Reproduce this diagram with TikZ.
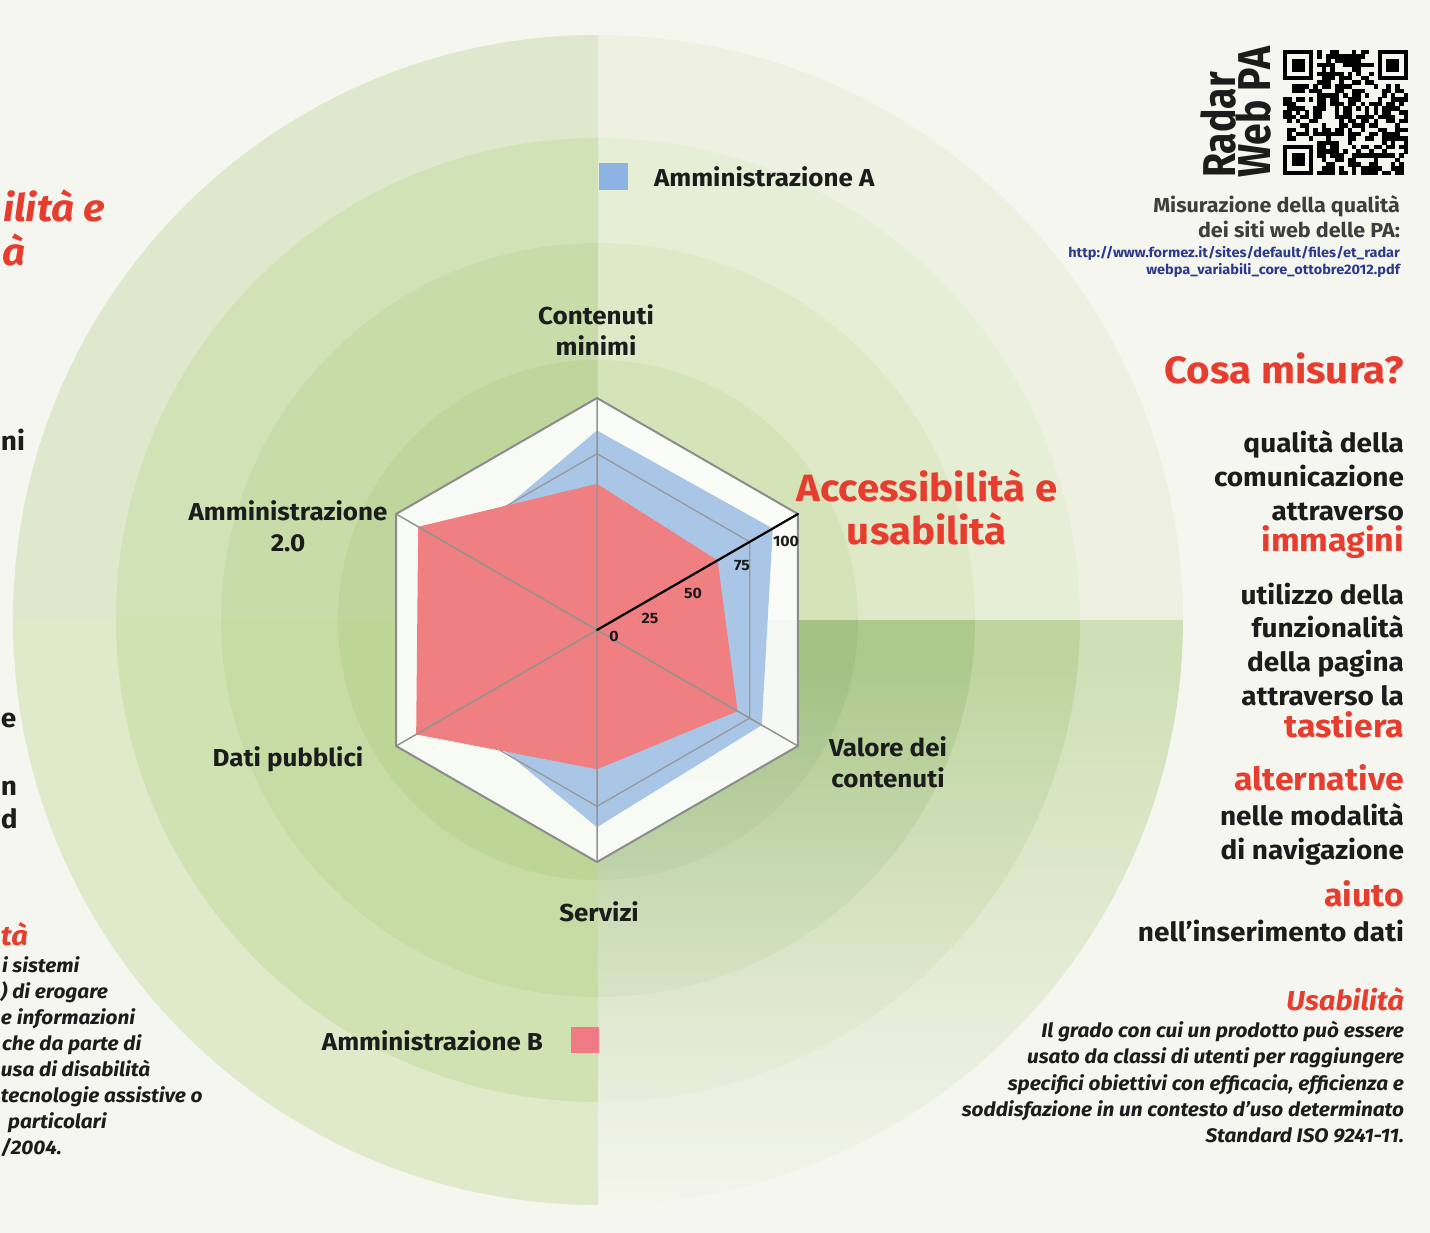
\documentclass[tikz,border=0pt]{standalone}
\usepackage{fontspec}
\setmainfont{Fira Sans}[FakeStretch=1.06]
\newfontfamily\radarfont{Fira Sans}[FakeStretch=0.85]
\usetikzlibrary{fadings}
\definecolor{bgc}{HTML}{F6F6F0}
\definecolor{txt}{HTML}{1C1C1C}
\definecolor{redt}{HTML}{E63D2F}
\definecolor{urlc}{HTML}{2B3A8C}
\definecolor{serA}{HTML}{AAC6E6}
\definecolor{serB}{HTML}{F07F82}
\definecolor{legA}{HTML}{8DB3E2}
\definecolor{legB}{HTML}{F07B86}
\definecolor{tla}{HTML}{DFE7CC}\definecolor{tlb}{HTML}{D2E2B7}\definecolor{tlc}{HTML}{C8DCA9}\definecolor{tld}{HTML}{BED69C}
\definecolor{tra}{HTML}{EEF1E1}\definecolor{trb}{HTML}{E7EED6}\definecolor{trc}{HTML}{DFE9C8}\definecolor{trd}{HTML}{D5E4B8}
\definecolor{bra}{HTML}{CFE0B6}\definecolor{brb}{HTML}{BED59F}\definecolor{brc}{HTML}{ADC98C}\definecolor{brd}{HTML}{A2C183}
\definecolor{bla}{HTML}{E0EACB}\definecolor{blb}{HTML}{D0E2B2}\definecolor{blc}{HTML}{C6DCA4}\definecolor{bld}{HTML}{BBD696}
\tikzset{
  lab/.style={font=\bfseries\fontsize{24.5}{31}\selectfont, text=txt, align=center},
  redbig/.style={font=\bfseries\fontsize{38}{43}\selectfont, text=redt, align=center},
  rcol/.style={font=\bfseries\fontsize{26.4}{30}\selectfont, text=txt, anchor=base east},
  rred/.style={font=\bfseries\fontsize{32}{34}\selectfont, text=redt, anchor=base east},
  itl/.style={font=\bfseries\itshape\fontsize{19.6}{26}\selectfont, text=txt},
  tick/.style={font=\bfseries\fontsize{15}{16}\selectfont, text=txt},
  axisl/.style={draw=gray!85, line width=1.5pt},
  hexl/.style={draw=gray!90, line width=2pt, line join=round},
  gridl/.style={draw=gray!80, line width=1.3pt},
}
\begin{document}
\begin{tikzpicture}[x=1pt,y=-1pt, every node/.style={inner sep=0pt, outer sep=0pt}]
\path[use as bounding box] (0,0) rectangle (1430,1233);
\begin{scope}
\clip (0,0) rectangle (1430,1233);
\fill[bgc] (0,0) rectangle (1430,1233);
% rings, quadrant by quadrant
\begin{scope}\clip (0,0) rectangle (598,620);
 \fill[tla] (598,620) circle[radius=585pt];
 \fill[tlb] (598,620) circle[radius=482pt];
 \fill[tlc] (598,620) circle[radius=377pt];
 \fill[tld] (598,620) circle[radius=260pt];
\end{scope}
\begin{scope}\clip (598,0) rectangle (1430,620);
 \fill[tra] (598,620) circle[radius=585pt];
 \fill[trb] (598,620) circle[radius=482pt];
 \fill[trc] (598,620) circle[radius=377pt];
 \fill[trd] (598,620) circle[radius=260pt];
\end{scope}
\begin{scope}\clip (0,620) rectangle (598,1233);
 \fill[bla] (598,620) circle[radius=585pt];
 \fill[blb] (598,620) circle[radius=482pt];
 \fill[blc] (598,620) circle[radius=377pt];
 \fill[bld] (598,620) circle[radius=260pt];
\end{scope}
\begin{scope}\clip (598,620) rectangle (1430,1233);
 \fill[bra] (598,620) circle[radius=585pt];
 \fill[brb] (598,620) circle[radius=482pt];
 \fill[brc] (598,620) circle[radius=377pt];
 \fill[brd] (598,620) circle[radius=260pt];
 \fill[bgc, path fading=north, fill opacity=0.95] (598,660) rectangle (1200,1210);
\end{scope}

% radar chart
\def\R{232}
\begin{scope}[shift={(597,630)}, yscale=-1]
 \fill[white, fill opacity=0.9] (90:\R) -- (30:\R) -- (-30:\R) -- (-90:\R) -- (-150:\R) -- (150:\R) -- cycle;
 \fill[serA] (90:{0.86*\R}) -- (30:{0.875*\R}) -- (-30:{0.82*\R}) -- (-90:{0.85*\R}) -- (-150:{0.70*\R}) -- (150:{0.70*\R}) -- cycle;
 \draw[gridl] (90:{0.76*\R}) -- (30:{0.76*\R}) -- (-30:{0.76*\R}) -- (-90:{0.76*\R}) -- (-150:{0.76*\R}) -- (150:{0.76*\R}) -- cycle;
 \fill[serB] (90:{0.63*\R}) -- (30:{0.60*\R}) -- (-30:{0.70*\R}) -- (-90:{0.60*\R}) -- (-150:{0.90*\R}) -- (150:{0.89*\R}) -- cycle;
 \draw[axisl] (90:\R) -- (-90:\R) (30:\R) -- (-150:\R) (150:\R) -- (-30:\R);
 \draw[hexl] (90:\R) -- (30:\R) -- (-30:\R) -- (-90:\R) -- (-150:\R) -- (150:\R) -- cycle;
 \draw[black, line width=2.2pt, line cap=round] (0,0) -- (30:\R);
\end{scope}
\node[tick] (t0) at (614,636) {0};
\node[tick] (t25) at (650,618) {25};
\node[tick] (t50) at (693,593) {50};
\node[tick] (t75) at (742,566) {75};
\node[tick] (t100) at (786,541) {100};

% axis labels
\node[lab] (cm) at (596,330) {Contenuti\\minimi};
\node[lab] (a20) at (288,526) {Amministrazione\\2.0};
\node[lab] (dp) at (288,759) {Dati pubblici};
\node[lab] (sv) at (599,912) {Servizi};
\node[lab] (vc) at (888,762) {Valore dei\\contenuti};
\node[redbig] (acc) at (927,507) {Accessibilità e\\usabilità};

% legend
\fill[legA] (599,163) rectangle (628,190);
\node[lab, anchor=west] (legatxt) at (654,177) {Amministrazione A};
\fill[legB] (571,1027) rectangle (599,1053);
\node[lab, anchor=east] (legbtxt) at (543,1041) {Amministrazione B};

% QR code (29 x 29 modules)
\def\qm{4.31}
\pgfmathsetseed{777}
\foreach \i in {0,...,28}{
  \foreach \j in {0,...,28}{
    \pgfmathtruncatemacro\qrskip{((\i<8)&&(\j<8))||((\i>20)&&(\j<8))||((\i<8)&&(\j>20))}
    \pgfmathtruncatemacro\qron{rnd<0.52}
    \ifnum\qrskip=0\relax\ifnum\qron=1\relax
      \fill[black] ({1283+\qm*\i},{50+\qm*\j}) rectangle ++(4.5,4.5);
    \fi\fi
  }
}
\foreach \cx/\cy in {0/0, 22/0, 0/22}{
  \fill[black] ({1283+\qm*\cx},{50+\qm*\cy}) rectangle ++({7*\qm},{7*\qm});
  \fill[bgc] ({1283+\qm*(\cx+1)},{50+\qm*(\cy+1)}) rectangle ++({5*\qm},{5*\qm});
  \fill[black] ({1283+\qm*(\cx+2)},{50+\qm*(\cy+2)}) rectangle ++({3*\qm},{3*\qm});
}
\node[font=\radarfont\bfseries\fontsize{46}{48}\selectfont, text=txt, rotate=90, anchor=base west] (radar) at (1235,178) {Radar};
\node[font=\radarfont\bfseries\fontsize{46}{48}\selectfont, text=txt, rotate=90, anchor=base west] (webpa) at (1270,178) {Web PA};
\node[font=\bfseries\fontsize{20.3}{25}\selectfont, text=txt!85, anchor=base east] (mis1) at (1400,213) {Misurazione della qualità};
\node[font=\bfseries\fontsize{20.3}{25}\selectfont, text=txt!85, anchor=base east] (mis2) at (1400,238) {dei siti web delle PA:};
\node[font=\bfseries\fontsize{13.7}{16}\selectfont, text=urlc, anchor=base east] (url1) at (1400,258) {http://www.formez.it/sites/default/files/et\_radar};
\node[font=\bfseries\fontsize{13.7}{16}\selectfont, text=urlc, anchor=base east] (url2) at (1400,275) {webpa\_variabili\_core\_ottobre2012.pdf};

% right column
\node[font=\bfseries\fontsize{38}{43}\selectfont, text=redt, anchor=base east] (cosa) at (1404,384) {Cosa misura?};
\node[rcol] (r1) at (1404,452) {qualità della};
\node[rcol] (r2) at (1404,486) {comunicazione};
\node[rcol] (r3) at (1404,520) {attraverso};
\node[rred] (r4) at (1404,551) {immagini};
\node[rcol] (r5) at (1404,604) {utilizzo della};
\node[rcol] (r6) at (1404,637) {funzionalità};
\node[rcol] (r7) at (1404,671) {della pagina};
\node[rcol] (r8) at (1404,705) {attraverso la};
\node[rred] (r9) at (1404,737) {tastiera};
\node[rred] (r10) at (1404,790) {alternative};
\node[rcol] (r11) at (1404,825) {nelle modalità};
\node[rcol] (r12) at (1404,859) {di navigazione};
\node[rred] (r13) at (1404,906) {aiuto};
\node[rcol] (r14) at (1404,941) {nell’inserimento dati};
\node[font=\bfseries\itshape\fontsize{27.5}{32}\selectfont, text=redt, anchor=base east] (usab) at (1404,1010) {Usabilità};
\node[itl, anchor=base east] (u1) at (1404,1037) {Il grado con cui un prodotto può essere};
\node[itl, anchor=base east] (u2) at (1404,1063) {usato da classi di utenti per raggiungere};
\node[itl, anchor=base east] (u3) at (1404,1090) {specifici obiettivi con efficacia, efficienza e};
\node[itl, anchor=base east] (u4) at (1404,1116) {soddisfazione in un contesto d'uso determinato};
\node[itl, anchor=base east] (u5) at (1404,1142) {Standard ISO 9241-11.};

% left cut-off text fragments
\node[font=\bfseries\itshape\fontsize{38}{43}\selectfont, text=redt, anchor=base east] (l1) at (105,222) {ilità e};
\node[font=\bfseries\itshape\fontsize{38}{43}\selectfont, text=redt, anchor=base west] (l2) at (2,266) {à};
\node[rcol, anchor=base west] (l3) at (1,450) {ni};
\node[rcol, anchor=base west] (l4) at (1,727) {e};
\node[rcol, anchor=base west] (l5) at (1,795) {n};
\node[rcol, anchor=base west] (l6) at (1,828) {d};
\node[font=\bfseries\itshape\fontsize{27.5}{32}\selectfont, text=redt, anchor=base west] (l7) at (1,945) {tà};
\node[itl, anchor=base west] (l8) at (2,972) {i sistemi};
\node[itl, anchor=base west] (l9) at (1,998) {) di erogare};
\node[itl, anchor=base west] (l10) at (1,1024) {e informazioni};
\node[itl, anchor=base west] (l11) at (2,1050) {che da parte di};
\node[itl, anchor=base west] (l12) at (1,1076) {usa di disabilità};
\node[itl, anchor=base west] (l13) at (1,1102) {tecnologie assistive o};
\node[itl, anchor=base west] (l14) at (8,1128) {particolari};
\node[itl, anchor=base west] (l15) at (1,1154) {/2004.};
\end{scope}
\end{tikzpicture}
\end{document}
